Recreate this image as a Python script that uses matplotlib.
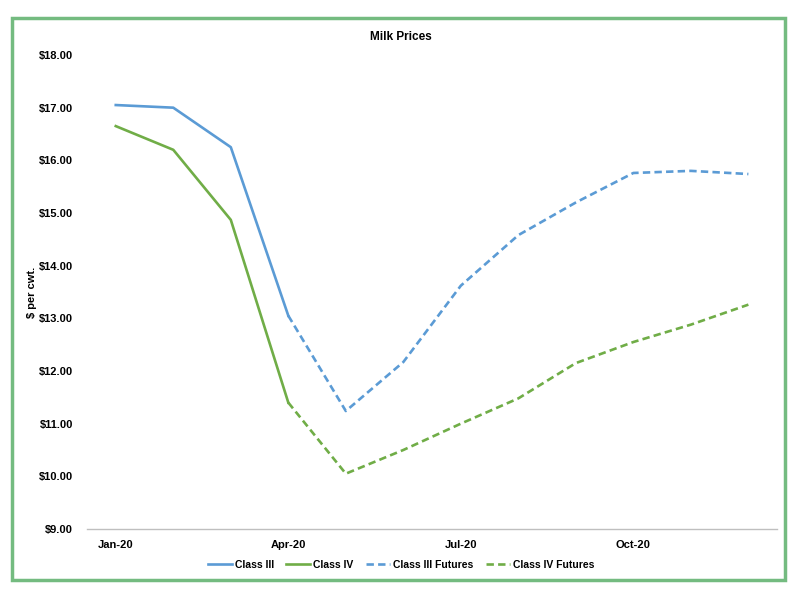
import numpy as np
import matplotlib
matplotlib.use("Agg")
import matplotlib.pyplot as plt
from matplotlib.patches import Rectangle

plt.rcParams['font.family'] = ['Liberation Sans', 'DejaVu Sans']

# monthly data, Jan-20 .. Dec-20
months = ["Jan-20", "Feb-20", "Mar-20", "Apr-20", "May-20", "Jun-20",
          "Jul-20", "Aug-20", "Sep-20", "Oct-20", "Nov-20", "Dec-20"]
class3 = [17.05, 17.00, 16.25, 13.05, None, None, None, None, None, None, None, None]
class4 = [16.65, 16.20, 14.87, 11.40, None, None, None, None, None, None, None, None]
class3_fut = [None, None, None, 13.05, 11.24, 12.17, 13.62, 14.58, 15.20, 15.76, 15.80, 15.74]
class4_fut = [None, None, None, 11.40, 10.05, 10.50, 11.00, 11.48, 12.15, 12.55, 12.88, 13.26]
tick_labels = ["Jan-20", "Apr-20", "Jul-20", "Oct-20"]
yticks = [9, 10, 11, 12, 13, 14, 15, 16, 17, 18]

blue = '#5B9BD5'
green = '#70AD47'
dash = (0, (2.8, 1.6))

def arr(vals):
    return np.array([np.nan if v is None else v for v in vals], dtype=float)

fig = plt.figure(figsize=(8.02, 5.89), dpi=100)
ax = fig.add_axes([0.1085, 0.1019, 0.8605, 0.8047])

x = np.arange(len(months))
ax.plot(x, arr(class3), color=blue, lw=1.9, label="Class III")
ax.plot(x, arr(class4), color=green, lw=1.9, label="Class IV")
ax.plot(x, arr(class3_fut), color=blue, lw=1.9, linestyle=dash, label="Class III Futures")
ax.plot(x, arr(class4_fut), color=green, lw=1.9, linestyle=dash, label="Class IV Futures")

ax.set_xlim(-0.5, 11.5)
ax.set_ylim(9, 18)
ax.set_yticks(yticks)
ax.set_yticklabels([f"${v:.2f}" for v in yticks], fontsize=8, fontweight='bold')
ax.set_xticks([months.index(m) for m in tick_labels])
ax.set_xticklabels(tick_labels, fontsize=8, fontweight='bold')
ax.tick_params(length=0, pad=8)
ax.tick_params(axis='y', pad=10)
for s in ['top', 'right', 'left']:
    ax.spines[s].set_visible(False)
ax.spines['bottom'].set_color('#bfbfbf')
ax.spines['bottom'].set_linewidth(1)

ax.set_ylabel("$ per cwt.", fontsize=8, fontweight='bold')
ax.yaxis.set_label_coords(-0.072, 0.5)
fig.text(0.5, 0.938, "Milk Prices", ha='center', va='center', fontsize=8.5, fontweight='bold')

leg = fig.legend(loc='center', bbox_to_anchor=(0.5, 0.041), ncol=4, frameon=False,
                 fontsize=7.5, handlelength=2.3, columnspacing=1.2, handletextpad=0.3)
for t in leg.get_texts():
    t.set_fontweight('bold')

# outer green frame
fig.patches.append(Rectangle((12 / 802, 1 - 580 / 589), 773 / 802, 562 / 589,
                             transform=fig.transFigure, fill=False,
                             edgecolor='#74BB80', linewidth=2.5))

fig.savefig("out.png", dpi=100)
